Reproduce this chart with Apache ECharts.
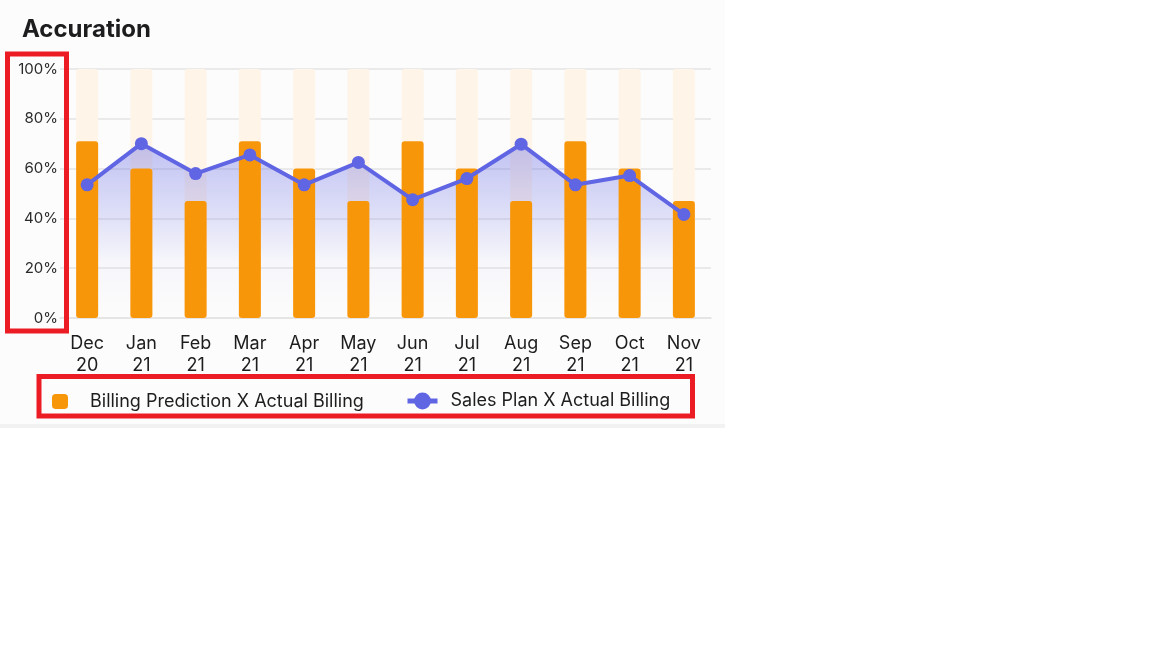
<!DOCTYPE html>
<html><head><meta charset="utf-8">
<script src="https://cdn.jsdelivr.net/npm/echarts@6/dist/echarts.min.js"></script>
<style>html,body{margin:0;padding:0;background:#fff}#c{width:1152px;height:648px}</style>
</head><body><div id="c"></div>
<script>
const categories = ['Dec\n20','Jan\n21','Feb\n21','Mar\n21','Apr\n21','May\n21','Jun\n21','Jul\n21','Aug\n21','Sep\n21','Oct\n21','Nov\n21'];
const billingPrediction = [71, 60, 47, 71, 60, 47, 71, 60, 47, 71, 60, 47];
const salesPlan = [53.5, 70, 58, 65.5, 53.5, 62.5, 47.5, 56, 69.8, 53.5, 57.2, 41.6];
const backgroundMax = [100, 100, 100, 100, 100, 100, 100, 100, 100, 100, 100, 100];
const yTickLabels = ['0%', '20%', '40%', '60%', '80%', '100%'];

const FONT = 'Inter, "Noto Sans", sans-serif';
const ORANGE = '#f8960a';
const PURPLE = '#6065e4';

const chart = echarts.init(document.getElementById('c'), null, {renderer: 'canvas'});
chart.setOption({
  animation: false,
  backgroundColor: '#ffffff',
  textStyle: {fontFamily: FONT},
  graphic: [
    {type: 'rect', z: -10, silent: true, shape: {x: 0, y: 0, width: 725, height: 424}, style: {fill: '#fcfcfc'}},
    {type: 'rect', z: -10, silent: true, shape: {x: 0, y: 424, width: 725, height: 4}, style: {fill: '#f2f2f2'}},
    {type: 'rect', z: 100, silent: true, shape: {x: 7.5, y: 54, width: 59, height: 277}, style: {fill: 'none', stroke: '#ec1c24', lineWidth: 5}},
    {type: 'rect', z: 100, silent: true, shape: {x: 39, y: 376.5, width: 653.5, height: 39.5}, style: {fill: 'none', stroke: '#ec1c24', lineWidth: 5}}
  ],
  title: {
    text: 'Accuration', left: 22, top: 18, padding: 0,
    textStyle: {fontFamily: FONT, fontSize: 24, fontWeight: 'bold', color: '#1d1d1f'}
  },
  legend: [
    {
      data: ['Billing Prediction X Actual Billing'], left: 52, top: 392.5, padding: 0,
      itemWidth: 16, itemHeight: 15, icon: 'roundRect',
      textStyle: {fontFamily: FONT, fontSize: 18, color: '#1d1d1f', padding: [2, 0, 0, 17]}
    },
    {
      data: ['Sales Plan X Actual Billing'], left: 405, top: 392, padding: 0,
      itemWidth: 30, itemHeight: 21,
      lineStyle: {width: 5},
      textStyle: {fontFamily: FONT, fontSize: 18, color: '#1d1d1f', padding: [0, 0, 0, 8]}
    }
  ],
  grid: {left: 60, right: 441, top: 69, bottom: 330, containLabel: false},
  xAxis: {
    type: 'category', data: categories,
    axisLine: {show: true, lineStyle: {color: '#e4e4e4', width: 1.5}},
    axisTick: {show: false},
    axisLabel: {color: '#1d1d1f', fontSize: 18, lineHeight: 22, margin: 15, fontFamily: FONT, interval: 0}
  },
  yAxis: {
    type: 'value', min: 0, max: 100, interval: 20,
    axisLine: {show: false}, axisTick: {show: false},
    splitLine: {lineStyle: {color: '#e4e4e4', width: 1.5}},
    axisLabel: {
      color: '#2a2a2a', fontSize: 15, margin: 2, fontFamily: FONT,
      formatter: v => yTickLabels[Math.round(v / 20)]
    }
  },
  series: [
    {
      name: 'bg', type: 'bar', data: backgroundMax, barWidth: 22, barGap: '-100%', z: 1, silent: true,
      itemStyle: {color: '#fff4e8', borderRadius: 3}
    },
    {
      name: 'areaFill', type: 'line', data: salesPlan, symbol: 'none', z: 2, silent: true,
      lineStyle: {width: 0},
      areaStyle: {
        color: new echarts.graphic.LinearGradient(0, 0, 0, 1, [
          {offset: 0, color: 'rgba(96,101,228,0.55)'},
          {offset: 0.4, color: 'rgba(96,101,228,0.28)'},
          {offset: 0.68, color: 'rgba(96,101,228,0.05)'},
          {offset: 1, color: 'rgba(96,101,228,0)'}
        ])
      }
    },
    {
      name: 'Billing Prediction X Actual Billing', type: 'bar', data: billingPrediction, barWidth: 22, barGap: '-100%', z: 3,
      itemStyle: {color: ORANGE, borderRadius: 3}
    },
    {
      name: 'Sales Plan X Actual Billing', type: 'line', data: salesPlan, z: 4,
      symbol: 'circle', symbolSize: 13,
      lineStyle: {color: PURPLE, width: 4},
      itemStyle: {color: PURPLE}
    }
  ]
});
</script>
</body></html>
